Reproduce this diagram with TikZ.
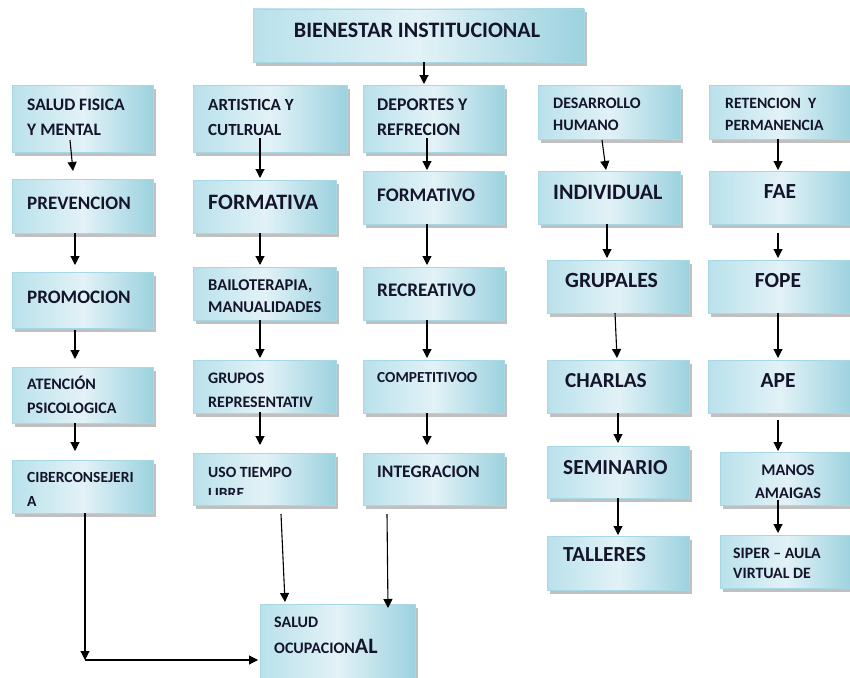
\documentclass[tikz,border=0pt]{standalone}
\usepackage{fontspec}
\setmainfont{Carlito}
\usetikzlibrary{arrows.meta,shadows,calc}
\definecolor{bL}{HTML}{B9E1EB}
\definecolor{bM}{HTML}{E2F2F7}
\definecolor{bR}{HTML}{9CD2DF}
\definecolor{bD}{HTML}{A8D8E3}
\definecolor{tx}{HTML}{14142B}
\tikzset{
 box/.style={draw=bD, line width=0.8pt, left color=bL, right color=bR, middle color=bM,
   inner sep=0pt, outer sep=0pt, anchor=north west,
   drop shadow={shadow xshift=2.5pt, shadow yshift=-3.5pt, fill=black!45, opacity=0.55}},
 arr/.style={line width=1.1pt, -{Triangle[width=9pt,length=9pt]}},
 lbl/.style={inner sep=0pt, anchor=base west, text=tx},
 clbl/.style={inner sep=0pt, anchor=base, text=tx},
}
\newcommand\bx[5]{\node[box, minimum width=#4pt, minimum height=#5pt] (#1) at (#2,#3) {};}
\newcommand\tl[5]{\node[lbl, font=\bfseries\fontsize{#4}{#4}\selectfont] (#1) at (#2,{#3+0.322*#4}) {#5};}
\newcommand\tc[5]{\node[clbl, font=\bfseries\fontsize{#4}{#4}\selectfont] (#1) at (#2,{#3+0.322*#4}) {#5};}
\begin{document}
\begin{tikzpicture}[x=1pt,y=-1pt]
\useasboundingbox (0,0) rectangle (850,677);
\clip (0,0) rectangle (850,677);
% boxes
\bx{bien}{253}{9}{331}{53}
\bx{sfm}{12}{85}{141}{67}
\bx{prev}{12}{179}{141}{54}
\bx{prom}{12}{272}{141}{56}
\bx{aten}{12}{367}{141}{56}
\bx{cib}{12}{460}{141}{53}
\bx{art}{193}{85}{154}{67}
\bx{form}{193}{180}{143}{53}
\bx{bail}{193}{267}{143}{53}
\bx{grup}{193}{360}{143}{53}
\bx{uso}{193}{453}{142}{52}
\bx{dep}{363}{85}{141}{67}
\bx{fmo}{363}{171}{141}{53}
\bx{rec}{363}{267}{141}{53}
\bx{comp}{363}{360}{141}{53}
\bx{integ}{363}{453}{141}{52}
\bx{des}{538}{85}{142}{54}
\bx{ind}{538}{171}{142}{53}
\bx{grp}{547}{260}{142}{53}
\bx{char}{547}{360}{142}{53}
\bx{sem}{547}{446}{142}{52}
\bx{tal}{547}{536}{142}{54}
\bx{ret}{709}{85}{143}{54}
\bx{fae}{709}{171}{143}{53}
\bx{fope}{708}{260}{144}{53}
\bx{ape}{708}{360}{144}{53}
\bx{manos}{720}{452}{132}{53}
\bx{siper}{720}{535}{132}{53}
\bx{so}{260}{604}{155}{112}
% texts
\tc{t-bien}{417}{30}{22}{BIENESTAR INSTITUCIONAL}
\tl{t-sfm1}{27}{105}{17.5}{SALUD FISICA}
\tl{t-sfm2}{27}{130}{17.5}{Y MENTAL}
\tl{t-prev}{27}{203}{19}{PREVENCION}
\tl{t-prom}{27}{297}{19}{PROMOCION}
\tl{t-aten1}{27}{384}{16}{ATENCIÓN}
\tl{t-aten2}{27}{408}{16}{PSICOLOGICA}
\tl{t-cib1}{27}{478}{15.5}{CIBERCONSEJERI}
\tl{t-cib2}{27}{502}{15.5}{A}
\tl{t-art1}{208}{105}{17}{ARTISTICA Y}
\tl{t-art2}{208}{130}{17}{CUTLRUAL}
\tl{t-form}{208}{202}{22}{FORMATIVA}
\tl{t-bail1}{208}{285}{16.5}{BAILOTERAPIA,}
\tl{t-bail2}{208}{307}{16.5}{MANUALIDADES}
\tl{t-grup1}{208}{378}{16}{GRUPOS}
\tl{t-grup2}{208}{402}{16}{REPRESENTATIV}
\tl{t-uso1}{208}{472}{15.6}{USO TIEMPO}
\begin{scope}
\clip (193,453) rectangle (335,494);
\tl{t-uso2}{208}{493}{15.6}{LIBRE}
\end{scope}
\tl{t-dep1}{377}{105}{17.8}{DEPORTES Y}
\tl{t-dep2}{377}{130}{17.8}{REFRECION}
\tl{t-fmo}{377}{195}{19.2}{FORMATIVO}
\tl{t-rec}{377}{290}{19.2}{RECREATIVO}
\tl{t-comp}{377}{378}{15.3}{COMPETITIVOO}
\tl{t-integ}{377}{472}{17.6}{INTEGRACION}
\tl{t-des1}{553}{103}{16}{DESARROLLO}
\tl{t-des2}{553}{125}{16}{HUMANO}
\tl{t-ind}{553}{192}{22}{INDIVIDUAL}
\tl{t-grp}{565}{281}{21.7}{GRUPALES}
\tl{t-char}{565}{381}{21.3}{CHARLAS}
\tl{t-sem}{563}{468}{21.4}{SEMINARIO}
\tl{t-tal}{563}{555}{21.4}{TALLERES}
\tl{t-ret1}{725}{103}{15.7}{RETENCION\ \ Y}
\tl{t-ret2}{725}{125}{15.7}{PERMANENCIA}
\tc{t-fae}{780}{192}{21.5}{FAE}
\tc{t-fope}{778}{281}{21.5}{FOPE}
\tc{t-ape}{778}{381}{21.5}{APE}
\tc{t-man1}{788}{470}{16.2}{MANOS}
\tc{t-man2}{788}{493}{16.2}{AMAIGAS}
\tl{t-sip1}{733}{553}{15.8}{SIPER – AULA}
\tl{t-sip2}{733}{573}{15.8}{VIRTUAL DE}
\tl{t-so1}{274}{622}{16}{SALUD}
\node[lbl, font=\bfseries\fontsize{16}{16}\selectfont] (t-so2) at (274,{648+0.322*16}) {OCUPACION{\fontsize{22}{22}\selectfont AL}};
% connectors
\draw[arr] ([xshift=171pt]bien.south west) -- ([xshift=61pt,yshift=1pt]dep.north west);
\draw[arr] ([xshift=58pt,yshift=12pt]sfm.south west) -- ([xshift=61pt,yshift=8pt]prev.north west);
\draw[arr] ([xshift=63pt]prev.south west) -- ([xshift=63pt,yshift=7pt]prom.north west);
\draw[arr] ([xshift=63pt,yshift=-2pt]prom.south west) -- ([xshift=63pt,yshift=8pt]aten.north west);
\draw[arr] ([xshift=63pt]aten.south west) -- ([xshift=63pt,yshift=9pt]cib.north west);
\path ([xshift=73pt]cib.south west) coordinate (cb);
\coordinate (cnr) at (cb |- so.west);
\draw[arr] (cb) -- (cnr);
\draw[arr] (cnr) -- ([xshift=-2pt]so.west);
\draw[arr] ([xshift=67pt,yshift=14pt]art.south west) -- ([xshift=67pt,yshift=2pt]form.north west);
\draw[arr] ([xshift=67pt]form.south west) -- ([xshift=67pt,yshift=2pt]bail.north west);
\draw[arr] ([xshift=67pt]bail.south west) -- ([xshift=67pt,yshift=2pt]grup.north west);
\draw[arr] ([xshift=67pt,yshift=1pt]grup.south west) -- ([xshift=67pt,yshift=8pt]uso.north west);
\draw[arr] ([xshift=88pt,yshift=-9pt]uso.south west) -- ([xshift=25pt,yshift=2pt]so.north west);
\draw[arr] ([xshift=64pt,yshift=14pt]dep.south west) -- ([xshift=64pt,yshift=1pt]fmo.north west);
\draw[arr] ([xshift=64pt]fmo.south west) -- ([xshift=64pt,yshift=2pt]rec.north west);
\draw[arr] ([xshift=64pt]rec.south west) -- ([xshift=64pt,yshift=2pt]comp.north west);
\draw[arr] ([xshift=64pt]comp.south west) -- ([xshift=64pt,yshift=8pt]integ.north west);
\draw[arr] ([xshift=24pt,yshift=-9pt]integ.south west) -- ([xshift=128pt,yshift=-4pt]so.north west);
\draw[arr] ([xshift=64pt,yshift=-1pt]des.south west) -- ([xshift=68pt,yshift=1pt]ind.north west);
\draw[arr] ([xshift=69pt]ind.south west) -- ([xshift=60pt,yshift=2pt]grp.north west);
\draw[arr] ([xshift=68pt]grp.south west) -- ([xshift=70pt,yshift=2pt]char.north west);
\draw[arr] ([xshift=71pt]char.south west) -- ([xshift=71pt,yshift=3pt]sem.north west);
\draw[arr] ([xshift=71pt]sem.south west) -- ([xshift=71pt,yshift=1pt]tal.north west);
\draw[arr] ([xshift=69pt]ret.south west) -- ([xshift=69pt,yshift=1pt]fae.north west);
\draw[arr] ([xshift=69pt,yshift=-9pt]fae.south west) -- ([xshift=70pt,yshift=2pt]fope.north west);
\draw[arr] ([xshift=70pt]fope.south west) -- ([xshift=70pt,yshift=2pt]ape.north west);
\draw[arr] ([xshift=70pt,yshift=-7pt]ape.south west) -- ([xshift=58pt,yshift=1pt]manos.north west);
\draw[arr] ([xshift=58pt,yshift=5pt]manos.south west) -- ([xshift=58pt,yshift=2pt]siper.north west);
\end{tikzpicture}
\end{document}
